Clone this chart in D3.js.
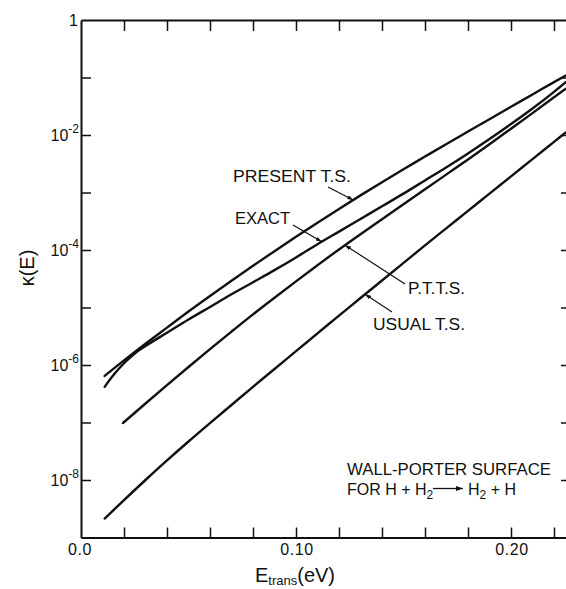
<!DOCTYPE html>
<html>
<head>
<meta charset="utf-8">
<script src="https://cdn.jsdelivr.net/npm/d3@7"></script>
<style>
  html, body { margin: 0; padding: 0; background: #fff; }
  svg { display: block; }
  text { font-family: "Liberation Sans", Arial, sans-serif; fill: #111; }
</style>
</head>
<body>
<svg id="chart" width="566" height="589"></svg>
<script>
// ---- data ----
// translational energy (eV) and log10 kappa(E) for each curve
const presentE   = [0.011,0.02,0.03,0.04,0.05,0.06,0.07,0.08,0.09,0.10,0.11,0.12,0.13,0.14,0.15,0.16,0.17,0.18,0.19,0.20,0.21,0.22,0.2255];
const presentLog = [-6.19,-5.92,-5.63,-5.35,-5.07,-4.80,-4.535,-4.275,-4.02,-3.77,-3.525,-3.285,-3.05,-2.82,-2.595,-2.375,-2.155,-1.94,-1.725,-1.51,-1.295,-1.08,-0.965];

const exactE   = [0.011,0.015,0.02,0.025,0.03,0.04,0.05,0.06,0.07,0.08,0.09,0.10,0.11,0.12,0.13,0.14,0.15,0.16,0.17,0.18,0.19,0.20,0.21,0.22,0.2255];
const exactLog = [-6.38,-6.18,-5.97,-5.80,-5.67,-5.44,-5.21,-4.99,-4.77,-4.56,-4.35,-4.13,-3.90,-3.68,-3.46,-3.24,-3.02,-2.79,-2.56,-2.32,-2.07,-1.81,-1.54,-1.25,-1.08];

const pttsE   = [0.0195,0.03,0.04,0.05,0.06,0.07,0.08,0.09,0.10,0.11,0.12,0.13,0.14,0.15,0.16,0.17,0.18,0.19,0.20,0.21,0.22,0.2255];
const pttsLog = [-7.01,-6.67,-6.35,-6.035,-5.725,-5.42,-5.12,-4.83,-4.545,-4.265,-3.99,-3.725,-3.465,-3.205,-2.945,-2.685,-2.425,-2.16,-1.89,-1.62,-1.345,-1.195];

const usualE   = [0.011,0.02,0.03,0.04,0.05,0.06,0.07,0.08,0.09,0.10,0.11,0.12,0.13,0.14,0.15,0.16,0.17,0.18,0.19,0.20,0.21,0.22,0.2255];
const usualLog = [-8.67,-8.35,-8.00,-7.66,-7.33,-7.01,-6.695,-6.38,-6.07,-5.76,-5.45,-5.14,-4.835,-4.53,-4.225,-3.92,-3.62,-3.32,-3.02,-2.72,-2.42,-2.12,-1.955];

const curveNames  = ["PRESENT T.S.", "EXACT", "P.T.T.S.", "USUAL T.S."];
const xTickValues = [0.02,0.04,0.06,0.08,0.10,0.12,0.14,0.16,0.18,0.20,0.22];
const xTickLabels = ["0.0", "0.10", "0.20"];
const xLabelValues = [0, 0.10, 0.20];
const yMinorDecades = [-1,-3,-5,-7];
const yLabelDecades = [0,-2,-4,-6,-8];
// energy at which each label's leader touches its curve
const leaderE = [0.1266, 0.1120, 0.1228, 0.1321];

// ---- layout ----
const L = 81, R = 566, T = 20, B = 537.5;
const svg = d3.select("#chart");

const x = d3.scaleLinear().domain([0, (R - L) / 2150]).range([L, R]);
const y = d3.scaleLog().domain([1e-9, 1]).range([B, T]);

const series = [
  {E: presentE, lg: presentLog},
  {E: exactE,   lg: exactLog},
  {E: pttsE,    lg: pttsLog},
  {E: usualE,   lg: usualLog}
].map((s, i) => ({name: curveNames[i], pts: s.E.map((e, j) => ({e, k: Math.pow(10, s.lg[j])}))}));

const defs = svg.append("defs");
defs.append("clipPath").attr("id", "plotclip")
  .append("rect").attr("x", L).attr("y", T).attr("width", R - L + 5).attr("height", B - T);

defs.append("marker")
  .attr("id", "arr").attr("viewBox", "0 0 10 10").attr("refX", 10).attr("refY", 5)
  .attr("markerWidth", 6).attr("markerHeight", 6).attr("markerUnits", "userSpaceOnUse")
  .attr("orient", "auto")
  .append("path").attr("d", "M0,1.5 L10,5 L0,8.5 Z").attr("fill", "#111");

defs.append("marker")
  .attr("id", "arrBig").attr("viewBox", "0 0 10 10").attr("refX", 10).attr("refY", 5)
  .attr("markerWidth", 9).attr("markerHeight", 7).attr("markerUnits", "userSpaceOnUse")
  .attr("orient", "auto")
  .append("path").attr("d", "M0,1.5 L10,5 L0,8.5 Z").attr("fill", "#111");

// ---- axes ----
function styleAxis(g) {
  g.selectAll("path.domain").attr("stroke", "#111").attr("stroke-width", 2);
  g.selectAll(".tick line").attr("stroke", "#111").attr("stroke-width", 1.5);
  g.selectAll(".tick text").remove();
}
svg.append("g").attr("transform", `translate(0,${B})`)
  .call(d3.axisTop(x).tickValues(xTickValues).tickSize(10).tickSizeOuter(0))
  .call(styleAxis);
svg.append("g").attr("transform", `translate(0,${T})`)
  .call(d3.axisBottom(x).tickValues(xTickValues).tickSize(11).tickSizeOuter(0))
  .call(styleAxis);
const yTicks = yMinorDecades.concat(yLabelDecades.filter(d => d !== 0)).map(d => Math.pow(10, d));
svg.append("g").attr("transform", `translate(${L},0)`)
  .call(d3.axisRight(y).tickValues(yTicks).tickSize(10).tickSizeOuter(0))
  .call(styleAxis);
svg.append("g").attr("transform", `translate(${R + 3},0)`)
  .call(d3.axisLeft(y).tickValues(d3.range(-8, 0).map(d => Math.pow(10, d))).tickSize(8).tickSizeOuter(0))
  .call(styleAxis);

// x tick labels
svg.append("g").selectAll("text").data(xLabelValues).join("text")
  .attr("x", (d, i) => x(d) + (i === 0 ? -1 : 1))
  .attr("y", 555)
  .attr("text-anchor", "middle")
  .attr("font-size", 16)
  .attr("letter-spacing", 0.6)
  .text((d, i) => xTickLabels[i]);

// y tick labels
const yl = svg.append("g");
yLabelDecades.forEach(d => {
  const yy = y(Math.pow(10, d));
  if (d === 0) {
    yl.append("text").attr("x", 78).attr("y", yy + 6).attr("text-anchor", "end")
      .attr("font-size", 16).text("1");
  } else {
    const t = yl.append("text").attr("x", 79).attr("y", yy + 6).attr("text-anchor", "end")
      .attr("font-size", 16);
    t.append("tspan").text("10");
    t.append("tspan").attr("dy", -8).attr("font-size", 12).text("-" + (-d));
  }
});

// axis titles
const xt = svg.append("text").attr("x", 255).attr("y", 582).attr("font-size", 20);
xt.append("tspan").text("E");
xt.append("tspan").attr("dy", 3).attr("font-size", 13).text("trans");
xt.append("tspan").attr("dy", -3).text("(eV)");

svg.append("text")
  .attr("transform", "translate(34,268) rotate(-90)")
  .attr("text-anchor", "middle").attr("font-size", 20)
  .text("κ(E)");

// ---- curves ----
const line = d3.line().x(d => x(d.e)).y(d => y(d.k)).curve(d3.curveMonotoneX);
svg.append("g").attr("clip-path", "url(#plotclip)")
  .selectAll("path").data(series).join("path")
  .attr("d", d => line(d.pts))
  .attr("fill", "none").attr("stroke", "#111").attr("stroke-width", 2.4)
  .attr("stroke-linejoin", "round").attr("stroke-linecap", "round");

// ---- curve labels with leaders ----
function kAt(s, e) {
  const lgArr = s.pts.map(p => Math.log10(p.k));
  const es = s.pts.map(p => p.e);
  const i = d3.bisectLeft(es, e);
  const t = (e - es[i - 1]) / (es[i] - es[i - 1]);
  return Math.pow(10, lgArr[i - 1] + t * (lgArr[i] - lgArr[i - 1]));
}
const labelLayout = [
  {tx: 233, ty: 182, tl: 118, lx: 328, ly: 187},
  {tx: 235, ty: 223.5, tl: 55, lx: 293, ly: 225},
  {tx: 408, ty: 293.5, tl: 57, lx: 405, ly: 284},
  {tx: 373, ty: 330, tl: 92, lx: 392, ly: 312}
];
series.forEach((s, i) => {
  const lay = labelLayout[i];
  svg.append("text").attr("x", lay.tx).attr("y", lay.ty).attr("font-size", 16)
    .attr("textLength", lay.tl).attr("lengthAdjust", "spacingAndGlyphs").text(s.name);
  svg.append("line")
    .attr("x1", lay.lx).attr("y1", lay.ly)
    .attr("x2", x(leaderE[i])).attr("y2", y(kAt(s, leaderE[i])))
    .attr("stroke", "#111").attr("stroke-width", 1.2)
    .attr("marker-end", "url(#arr)");
});

// ---- surface annotation ----
svg.append("text").attr("x", 347).attr("y", 475).attr("font-size", 16)
  .attr("textLength", 204).attr("lengthAdjust", "spacingAndGlyphs")
  .text("WALL-PORTER SURFACE");
const r1 = svg.append("text").attr("x", 347).attr("y", 495).attr("font-size", 16);
r1.append("tspan").text("FOR  H + H");
r1.append("tspan").attr("dy", 4).attr("font-size", 12).text("2");
svg.append("line").attr("x1", 433).attr("y1", 488.5).attr("x2", 463).attr("y2", 488.5)
  .attr("stroke", "#111").attr("stroke-width", 1.3).attr("marker-end", "url(#arrBig)");
const r2 = svg.append("text").attr("x", 468).attr("y", 495).attr("font-size", 16);
r2.append("tspan").text("H");
r2.append("tspan").attr("dy", 4).attr("font-size", 12).text("2");
r2.append("tspan").attr("dy", -4).text(" + H");
</script>
</body>
</html>
